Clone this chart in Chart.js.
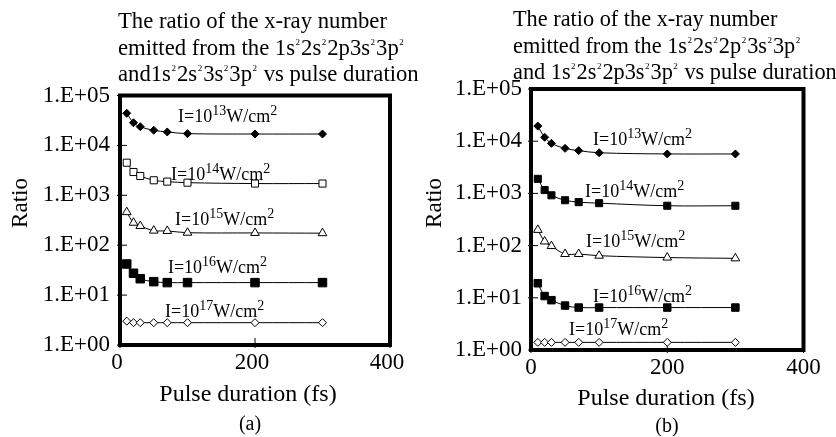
<!DOCTYPE html>
<html>
<head>
<meta charset="utf-8">
<script src="https://cdn.jsdelivr.net/npm/chart.js@4.4.1/dist/chart.umd.min.js"></script>
<style>
body { margin: 0; background: #fff; font-family: "Liberation Serif", "Times New Roman", serif; color: #000; }
#pagina { position: relative; width: 836px; height: 437px; overflow: hidden; }
.painel { position: absolute; top: 0; width: 418px; height: 437px; }
.titulo { position: absolute; font-size: 22.7px; line-height: 26.5px; white-space: nowrap; }
.titulo .s { font-size: 9px; position: relative; top: -10px; line-height: 0; margin: 0 1px 0 0.5px; }
.legenda { position: absolute; width: 60px; font-size: 20px; line-height: 20px; text-align: center; }
</style>
</head>
<body>
<div id="pagina">
  <div class="painel" style="left:0"><canvas id="grafico-a" width="418" height="437"></canvas></div>
  <div class="painel" style="left:418px"><canvas id="grafico-b" width="418" height="437"></canvas></div>

  <div class="titulo" style="left:118px; top:8px">The ratio of the x-ray number<br>emitted from the 1s<span class="s">2</span>2s<span class="s">2</span>2p3s<span class="s">2</span>3p<span class="s">2</span><br>and1s<span class="s">2</span>2s<span class="s">2</span>3s<span class="s">2</span>3p<span class="s">2</span> vs pulse duration</div>
  <div class="titulo" style="left:513px; top:6px; font-size:22.3px">The ratio of the x-ray number<br>emitted from the 1s<span class="s">2</span>2s<span class="s">2</span>2p<span class="s">2</span>3s<span class="s">2</span>3p<span class="s">2</span><br>and 1s<span class="s">2</span>2s<span class="s">2</span>2p3s<span class="s">2</span>3p<span class="s">2</span> vs pulse duration</div>

  <div class="legenda" style="left:220px; top:413px">(a)</div>
  <div class="legenda" style="left:637px; top:415px">(b)</div>
</div>

<script>
// eixo x: duracao do pulso (fs)
const duracao = [10, 20, 30, 50, 70, 100, 200, 300];
const expoentes = ['13', '14', '15', '16', '17'];

// painel (a)
const razaoA13 = [44000, 28500, 23700, 20100, 18600, 17200, 16900, 16900];
const razaoA14 = [4500, 2930, 2440, 2000, 1880, 1790, 1720, 1720];
const razaoA15 = [460, 282, 243, 196, 193, 178, 176, 174];
const razaoA16 = [42, 27.4, 21.3, 18.6, 17.8, 17.8, 17.8, 17.8];
const razaoA17 = [3.0, 2.8, 2.8, 2.8, 2.8, 2.8, 2.8, 2.8];

// painel (b)
const razaoB13 = [19500, 11900, 9100, 7300, 6600, 6000, 5700, 5700];
const razaoB14 = [1900, 1160, 920, 740, 680, 650, 580, 580];
const razaoB15 = [200, 120, 98, 69, 69, 64, 59, 57];
const razaoB16 = [19, 10.8, 9.0, 7.1, 6.5, 6.5, 6.5, 6.5];
const razaoB17 = [1.4, 1.4, 1.4, 1.4, 1.4, 1.4, 1.4, 1.4];

const ticksY = [1, 10, 100, 1000, 10000, 100000];
const rotulosY = ['1.E+00', '1.E+01', '1.E+02', '1.E+03', '1.E+04', '1.E+05'];
const ticksX = [0, 200, 400];

// onde fica cada texto "I=10^n W/cm^2" (em unidades dos eixos)
const posRotulosA = [[86, 29400], [75.6, 2030], [81.5, 254], [71, 27.7], [66.7, 3.64]];
const posRotulosB = [[91, 8450], [79.3, 853], [80.8, 94], [91, 8.3], [55.8, 1.94]];

Chart.defaults.font.family = '"Liberation Serif", "Times New Roman", serif';
Chart.defaults.color = '#000';

const FONTE = '"Liberation Serif", "Times New Roman", serif';

function desenhaRotulo(ctx, x, y, exp) {
  ctx.textAlign = 'left';
  ctx.textBaseline = 'alphabetic';
  ctx.fillStyle = '#000';
  ctx.font = '18px ' + FONTE;
  ctx.fillText('I=10', x, y);
  x += ctx.measureText('I=10').width;
  ctx.font = '14px ' + FONTE;
  ctx.fillText(exp, x, y - 7);
  x += ctx.measureText(exp).width;
  ctx.font = '18px ' + FONTE;
  ctx.fillText('W/cm', x, y);
  x += ctx.measureText('W/cm').width;
  ctx.font = '14px ' + FONTE;
  ctx.fillText('2', x, y - 7);
}

function montaGrafico(id, series, marcadores, p) {
  const moldura = {
    id: 'moldura',
    beforeDatasetsDraw(c) {
      const {ctx, chartArea: {left, top, right, bottom}, scales: {x, y}} = c;
      ctx.save();
      ctx.strokeStyle = '#000';
      ctx.lineWidth = 1;
      ticksY.forEach(v => {
        const yp = y.getPixelForValue(v);
        ctx.beginPath();
        ctx.moveTo(left - 3, yp);
        ctx.lineTo(left + 7, yp);
        ctx.stroke();
      });
      ticksX.forEach(v => {
        const xp = x.getPixelForValue(v);
        ctx.beginPath();
        ctx.moveTo(xp, bottom + 3);
        ctx.lineTo(xp, bottom - 7);
        ctx.stroke();
      });
      ctx.lineWidth = 4;
      ctx.strokeRect(left, top, right - left, bottom - top);
      ctx.restore();
    },
    afterDatasetsDraw(c) {
      const {ctx, scales: {x, y}} = c;
      ctx.save();
      p.rotulos.forEach((r, i) => {
        desenhaRotulo(ctx, x.getPixelForValue(r[0]), y.getPixelForValue(r[1]), expoentes[i]);
      });
      // titulo do eixo x
      ctx.font = '24px ' + FONTE;
      ctx.textAlign = 'center';
      ctx.textBaseline = 'middle';
      ctx.fillText('Pulse duration (fs)', p.titX, p.titY);
      // titulo do eixo y
      ctx.translate(p.ratioX, p.ratioY);
      ctx.rotate(-Math.PI / 2);
      ctx.font = '23px ' + FONTE;
      ctx.fillText('Ratio', 0, 0);
      ctx.restore();
    }
  };

  new Chart(document.getElementById(id), {
    type: 'line',
    data: {
      datasets: series.map((s, i) => ({
        data: duracao.map((d, j) => ({x: d, y: s[j]})),
        borderColor: '#000',
        borderWidth: 1,
        tension: 0.35,
        fill: false,
        pointStyle: marcadores[i].estilo,
        pointRadius: marcadores[i].raio,
        pointBackgroundColor: marcadores[i].cheio ? '#000' : '#fff',
        pointBorderColor: '#000',
        pointBorderWidth: 1
      }))
    },
    options: {
      responsive: false,
      animation: false,
      layout: {padding: {left: 0, right: p.dir, top: p.topo, bottom: 0}},
      plugins: {
        legend: {display: false},
        tooltip: {enabled: false}
      },
      scales: {
        x: {
          type: 'linear',
          min: 0,
          max: 400,
          afterBuildTicks(s) { s.ticks = ticksX.map(v => ({value: v})); },
          afterFit(s) { s.height = p.altX; },
          grid: {display: false, drawTicks: false},
          border: {display: false},
          ticks: {font: {size: 23}, padding: 4, autoSkip: false, maxRotation: 0, labelOffset: p.deslocX}
        },
        y: {
          type: 'logarithmic',
          min: 1,
          max: 100000,
          afterBuildTicks(s) { s.ticks = ticksY.map(v => ({value: v})); },
          afterFit(s) { s.width = p.esq; },
          grid: {display: false, drawTicks: false},
          border: {display: false},
          ticks: {
            font: {size: 23},
            padding: p.padTickY,
            autoSkip: false,
            callback: (v, i) => rotulosY[i]
          }
        }
      }
    },
    plugins: [moldura]
  });
}

montaGrafico('grafico-a',
  [razaoA13, razaoA14, razaoA15, razaoA16, razaoA17],
  [
    {estilo: 'rectRot', raio: 4, cheio: true},
    {estilo: 'rect', raio: 5, cheio: false},
    {estilo: 'triangle', raio: 5, cheio: false},
    {estilo: 'rect', raio: 6, cheio: true},
    {estilo: 'rectRot', raio: 4, cheio: false}
  ],
  {esq: 120, dir: 28, topo: 95.5, altX: 92, padTickY: 10, deslocX: -3,
   titX: 248, titY: 395, ratioX: 21, ratioY: 203, rotulos: posRotulosA}
);

montaGrafico('grafico-b',
  [razaoB13, razaoB14, razaoB15, razaoB16, razaoB17],
  [
    {estilo: 'rectRot', raio: 4, cheio: true},
    {estilo: 'rect', raio: 5, cheio: true},
    {estilo: 'triangle', raio: 5, cheio: false},
    {estilo: 'rect', raio: 5.3, cheio: true},
    {estilo: 'rectRot', raio: 4, cheio: false}
  ],
  {esq: 113, dir: 32.5, topo: 89, altX: 87, padTickY: 9, deslocX: 0,
   titX: 248, titY: 399, ratioX: 17, ratioY: 203, rotulos: posRotulosB}
);
</script>
</body>
</html>
